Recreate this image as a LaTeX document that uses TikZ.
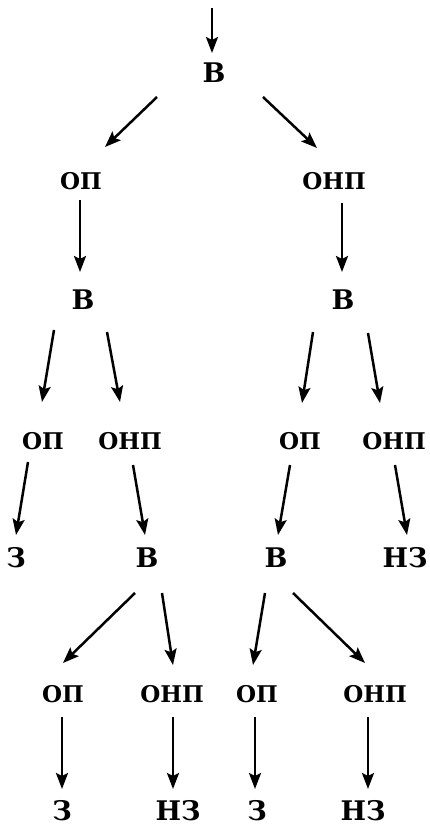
\documentclass[tikz,border=0pt]{standalone}
\usepackage{fontspec}
\setmainfont{DejaVu Serif}
\usetikzlibrary{arrows.meta}
\begin{document}
\begin{tikzpicture}[x=1pt,y=-1pt,
  lbl/.style={inner sep=0pt,font=\fontsize{23}{25}\selectfont\bfseries},
  vlbl/.style={inner sep=0pt,font=\fontsize{27}{29}\selectfont\bfseries},
  arr/.style={line width=2.5pt,-{Stealth[length=16pt,width=12pt,inset=3pt]}}]
\useasboundingbox (0,0) rectangle (429,827);
\coordinate (start) at (212,8);
\node[vlbl] (B1) at (214,73) {В};
\node[lbl] (OP1) at (81,181) {ОП};
\node[lbl] (ONP1) at (334,181) {ОНП};
\node[vlbl] (B2) at (83,300) {В};
\node[vlbl] (B3) at (343,300) {В};
\node[lbl] (OP2) at (43,441) {ОП};
\node[lbl] (ONP2) at (130,441) {ОНП};
\node[lbl] (OP3) at (300,441) {ОП};
\node[lbl] (ONP3) at (394,441) {ОНП};
\node[vlbl] (Z1) at (16,558) {З};
\node[vlbl] (B4) at (147,558) {В};
\node[vlbl] (B5) at (276,558) {В};
\node[vlbl] (NZ1) at (405,558) {НЗ};
\node[lbl] (OP4) at (63,694) {ОП};
\node[lbl] (ONP4) at (172,694) {ОНП};
\node[lbl] (OP5) at (257,694) {ОП};
\node[lbl] (ONP5) at (375,694) {ОНП};
\node[vlbl] (Z2) at (62,811) {З};
\node[vlbl] (NZ2) at (178,811) {НЗ};
\node[vlbl] (Z3) at (257,811) {З};
\node[vlbl] (NZ3) at (363,811) {НЗ};
\draw[arr] (start) -- ([shift={(-2,-20)}]B1.center);
\draw[arr] ([shift={(-57,24)}]B1.center) -- ([shift={(24,-34)}]OP1.center);
\draw[arr] ([shift={(49,24)}]B1.center) -- ([shift={(-17,-33)}]ONP1.center);
\draw[arr] ([shift={(-1,19)}]OP1.center) -- ([shift={(-3,-28)}]B2.center);
\draw[arr] ([shift={(8,22)}]ONP1.center) -- ([shift={(-1,-28)}]B3.center);
\draw[arr] ([shift={(-29,30)}]B2.center) -- ([shift={(-1,-39)}]OP2.center);
\draw[arr] ([shift={(24,32)}]B2.center) -- ([shift={(-10,-39)}]ONP2.center);
\draw[arr] ([shift={(-30,32)}]B3.center) -- ([shift={(2,-38)}]OP3.center);
\draw[arr] ([shift={(25,33)}]B3.center) -- ([shift={(-14,-38)}]ONP3.center);
\draw[arr] ([shift={(-15,21)}]OP2.center) -- ([shift={(0,-23)}]Z1.center);
\draw[arr] ([shift={(3,24)}]ONP2.center) -- ([shift={(-2,-23)}]B4.center);
\draw[arr] ([shift={(-10,24)}]OP3.center) -- ([shift={(2,-23)}]B5.center);
\draw[arr] ([shift={(1,24)}]ONP3.center) -- ([shift={(2,-23)}]NZ1.center);
\draw[arr] ([shift={(-12,35)}]B4.center) -- ([shift={(0,-31)}]OP4.center);
\draw[arr] ([shift={(15,35)}]B4.center) -- ([shift={(1,-29)}]ONP4.center);
\draw[arr] ([shift={(-11,35)}]B5.center) -- ([shift={(-4,-29)}]OP5.center);
\draw[arr] ([shift={(17,35)}]B5.center) -- ([shift={(-10,-31)}]ONP5.center);
\draw[arr] ([shift={(-1,23)}]OP4.center) -- ([shift={(0,-22)}]Z2.center);
\draw[arr] ([shift={(1,23)}]ONP4.center) -- ([shift={(-5,-22)}]NZ2.center);
\draw[arr] ([shift={(-2,23)}]OP5.center) -- ([shift={(-2,-22)}]Z3.center);
\draw[arr] ([shift={(-7,23)}]ONP5.center) -- ([shift={(5,-22)}]NZ3.center);
\end{tikzpicture}
\end{document}
